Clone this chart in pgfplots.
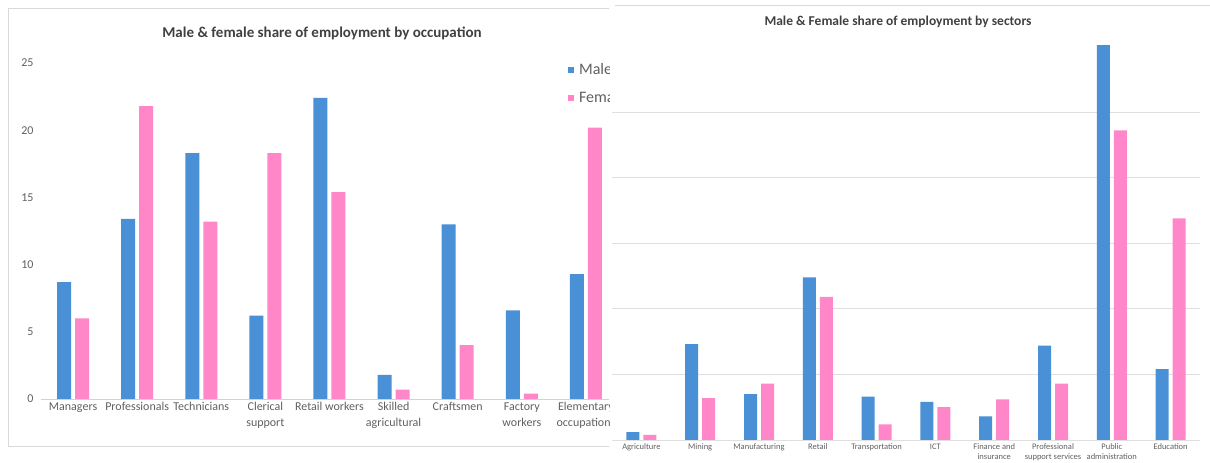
\documentclass[border=0pt]{standalone}
\usepackage{pgfplots}
\usepackage{pgfplotstable}
\pgfplotsset{compat=1.18}
\usepackage{fontspec}
\setmainfont{Carlito}
\definecolor{male}{RGB}{74,144,214}
\definecolor{female}{RGB}{255,134,200}
\definecolor{txt}{RGB}{96,96,96}
\definecolor{ttl}{RGB}{64,64,64}

\pgfplotstableread{
x male female
0 8.7 6.0
1 13.4 21.8
2 18.3 13.2
3 6.2 18.3
4 22.4 15.4
5 1.8 0.7
6 13.0 4.0
7 6.6 0.4
8 9.3 20.2
}\occ

\pgfplotstableread{
x male female
0 0.6 0.4
1 7.3 3.2
2 3.5 4.3
3 12.4 10.9
4 3.3 1.2
5 2.9 2.5
6 1.8 3.1
7 7.2 4.3
8 30.1 23.6
9 5.4 16.9
}\sec

\begin{document}
\begin{tikzpicture}[x=1pt,y=1pt]
\path[use as bounding box] (0,0) rectangle (1210,463);
% ---------- left chart (cropped) ----------
\begin{scope}
\clip (0,0) rectangle (609,463);
\draw[gray!30, line width=0.8pt] (8,17) rectangle (700,455);
\node[font=\bfseries\fontsize{15}{18}\selectfont, text=ttl] at (322,430) {Male \& female share of employment by occupation};
\begin{axis}[
  at={(41pt,64pt)}, anchor=south west, scale only axis,
  width=577pt, height=336pt,
  ybar=4pt, bar width=14pt,
  xmin=-0.5, xmax=8.5, ymin=0, ymax=25,
  ytick={0,5,...,25},
  xtick=data,
  xticklabels={Managers, Professionals, Technicians, {Clerical\\support}, Retail workers, {Skilled\\agricultural}, Craftsmen, {Factory\\workers}, {Elementary\\occupations}},
  xticklabel style={align=center, font=\fontsize{12}{16}\selectfont, text=txt},
  yticklabel style={font=\fontsize{12}{14}\selectfont, text=txt, xshift=-4pt},
  /pgf/number format/assume math mode=true,
  axis line style={draw=none},
  major tick length=0pt,
  extra y ticks={0}, extra y tick labels={},
  extra y tick style={grid=major, major grid style={gray!35, line width=0.8pt}},
  legend style={at={(0.908,1.01)}, anchor=north west, draw=none, fill=none,
    font=\fontsize{16}{18}\selectfont, text=txt, row sep=11pt},
  legend cell align=left,
  legend image code/.code={\fill[#1] (0pt,-3pt) rectangle (6pt,3pt); \path (9pt,0pt);},
]
\addplot[fill=male, draw=none] table[x=x, y=male] {\occ};
\addplot[fill=female, draw=none] table[x=x, y=female] {\occ};
\legend{Male, Female}
\end{axis}
\end{scope}
% ---------- right chart ----------
\draw[gray!30, line width=0.8pt] (615,458) -- (1210,458);
\node[font=\bfseries\fontsize{13.5}{16}\selectfont, text=ttl] at (898,441) {Male \& Female share of employment by sectors};
\begin{axis}[
  at={(612pt,23pt)}, anchor=south west, scale only axis,
  width=588pt, height=396.2pt,
  ybar=4pt, bar width=13pt,
  xmin=-0.5, xmax=9.5, ymin=0, ymax=30.2,
  ytick={0,5,...,25}, yticklabels={},
  ymajorgrids, major grid style={gray!25, line width=0.8pt},
  xtick=data,
  xticklabels={Agriculture, Mining, Manufacturing, Retail, Transportation, ICT, {Finance and\\insurance}, {Professional\\support services}, {Public\\administration}, Education},
  xticklabel style={align=center, font=\fontsize{8.5}{10}\selectfont, text=txt},
  axis line style={draw=none},
  major tick length=0pt,
]
\addplot[fill=male, draw=none] table[x=x, y=male] {\sec};
\addplot[fill=female, draw=none] table[x=x, y=female] {\sec};
\end{axis}
\end{tikzpicture}
\end{document}
